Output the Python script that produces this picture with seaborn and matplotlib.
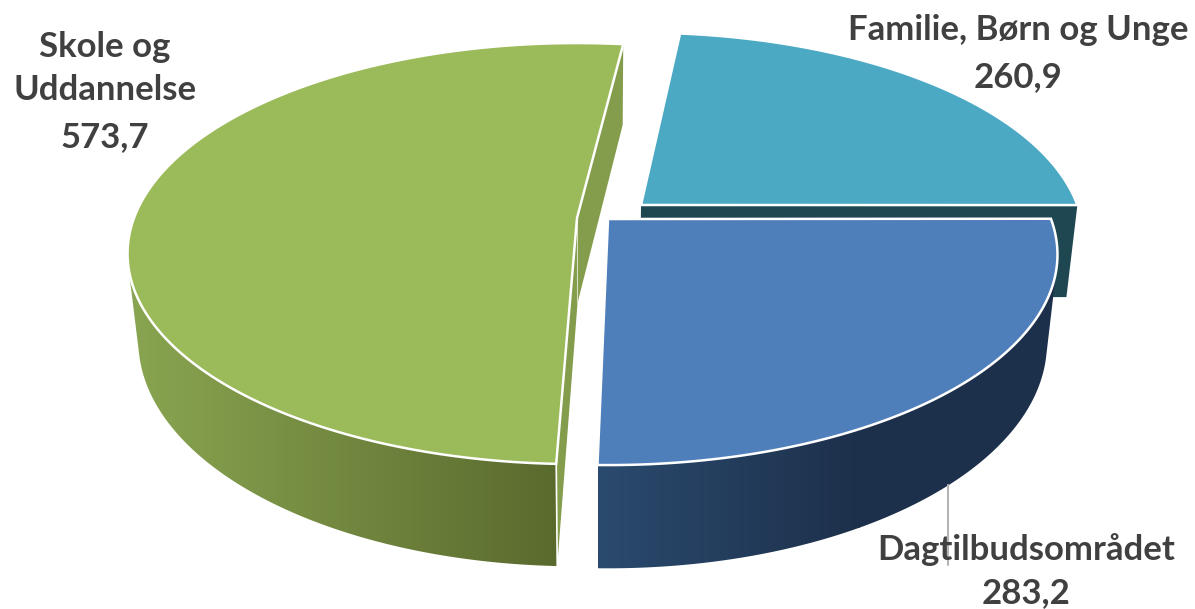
import numpy as np
import matplotlib
matplotlib.use("Agg")
import matplotlib.pyplot as plt
from matplotlib.patches import Polygon
from matplotlib.colors import to_rgb
import seaborn as sns

# Data
categories = ["Familie, Børn og Unge", "Dagtilbudsområdet", "Skole og\nUddannelse"]
values = [260.9, 283.2, 573.7]

# Styles / layout (pixel space of the 1195x609 figure)
top_colors = ["#4BA9C4", "#4F7FBB", "#9BBA59"]
cut_colors = ["#1F4752", None, "#849D4C"]
side_from = [None, "#2A4A6E", "#8AA651"]
side_to = [None, "#1D304B", "#59692D"]
apex_x = [641, 608, 577]
apex_y = [205, 219, 218]
depth = [92, 86, 85]
radius = [0.985, 1.0, 1.0]
tilt_deg = [-0.3, -0.4, 0.7]
side_span_deg = [None, 95, 125]
label_xy = [(1018, 30), (1026, 550), (105, 47)]
second_line_y = 90
value_xy = [(1018, 77), (1026, 593), (105, 137)]
START_DEG = 6.3
A, B, K = 443.0, 204.5, 0.169
X0, SHRINK = 600.0, 0.977
TEXT = "#404040"
FONT_SIZE = 25

sns.set_theme(style="white")
plt.rcParams["font.family"] = ["Lato", "DejaVu Sans"]

fig = plt.figure(figsize=(11.95, 6.09), dpi=100, facecolor="white")
ax = fig.add_axes([0, 0, 1, 1])
ax.set_xlim(0, 1195)
ax.set_ylim(609, 0)
ax.set_autoscale_on(False)
ax.axis("off")


def top_pt(i, theta):
    c, s = np.cos(theta), np.sin(theta)
    r = radius[i]
    return (apex_x[i] + r * A * s / (1 + K * c),
            apex_y[i] - r * B * c / (1 + K * c))


def bottom_pt(i, x, y):
    dy = np.asarray(y, dtype=float) - apex_y[i]
    slope = np.where(dy > 0, 0.07, 0.025)
    return X0 + (np.asarray(x, dtype=float) - X0) * SHRINK, y + depth[i] + slope * dy


fractions = np.array(values) / np.sum(values)
edges = np.radians(START_DEG + 360 * np.concatenate([[0], np.cumsum(fractions)]))


def slice_edges(i):
    t = np.radians(tilt_deg[i])
    return edges[i] + t, edges[i + 1] + t


def hull(points):
    pts = sorted(set(map(tuple, np.round(points, 3))))

    def half(seq):
        out = []
        for p in seq:
            while len(out) > 1 and ((out[-1][0] - out[-2][0]) * (p[1] - out[-2][1])
                                    - (out[-1][1] - out[-2][1]) * (p[0] - out[-2][0])) <= 0:
                out.pop()
            out.append(p)
        return out[:-1]

    return np.array(half(pts) + half(pts[::-1]))


def cut_face(i, theta, color, z):
    x1, y1 = top_pt(i, theta)
    bx1, by1 = bottom_pt(i, x1, y1)
    bx0, by0 = bottom_pt(i, apex_x[i], float(apex_y[i]))
    ax.fill([apex_x[i], x1, bx1, bx0], [apex_y[i], y1, by1, by0],
            color=color, lw=0, zorder=z)


def outer_side(i, z, x_lo, x_hi):
    t0, _ = slice_edges(i)
    th = np.linspace(t0, t0 + np.radians(side_span_deg[i]), 300)
    x, y = top_pt(i, th)
    bx, by = bottom_pt(i, x, y)
    poly = Polygon(hull(np.c_[np.r_[x, bx], np.r_[y, by]]), closed=True,
                   transform=ax.transData, facecolor="none", edgecolor="none")
    ax.add_patch(poly)
    pal = sns.blend_palette([side_from[i], side_to[i]], 256)
    grad = np.array([[to_rgb(c) for c in pal]])
    im = ax.imshow(grad, extent=[x_lo, x_hi, 609, 0], aspect="auto",
                   interpolation="bilinear", zorder=z)
    im.set_clip_path(poly)
    # fill beyond the gradient span with the end colour
    if i == 1:
        im2 = ax.imshow(np.array([[to_rgb(side_to[i])]]), extent=[x_hi - 1, 1195, 609, 0],
                        aspect="auto", zorder=z)
        im2.set_clip_path(poly)


def top_face(i, z):
    th = np.linspace(*slice_edges(i), 200)
    x, y = top_pt(i, th)
    ax.fill(np.r_[apex_x[i], x], np.r_[apex_y[i], y], facecolor=top_colors[i],
            edgecolor="white", lw=1.8, joinstyle="miter", zorder=z)


# Teal slice sits behind the blue slice
cut_face(0, slice_edges(0)[1], cut_colors[0], 1)
top_face(0, 2)

# Green slice
g0, g1 = slice_edges(2)
outer_side(2, 3, 125, 565)
cut_face(2, g0, cut_colors[2], 3.2)
cut_face(2, g1, cut_colors[2], 3.2)
xa, ya = top_pt(2, g0)
bxa, bya = bottom_pt(2, xa, ya)
ax.plot([xa, bxa], [ya, bya], color="white", lw=1.2, zorder=3.5)
ax.plot([apex_x[2], apex_x[2]], [apex_y[2], apex_y[2] + depth[2]], color="#D5DEC0", lw=0.8, zorder=3.5)
top_face(2, 4)

# Blue slice
outer_side(1, 5, 598, 860)
top_face(1, 6)

# Leader line
ax.plot([948, 948], [485, 565], color="#B5B5B5", lw=1.5, zorder=8)

# Labels
for i, name in enumerate(categories):
    lx, ly = label_xy[i]
    vx, vy = value_xy[i]
    kw = dict(ha="center", va="center", fontsize=FONT_SIZE, fontweight="bold", color=TEXT, zorder=9)
    if "\n" in name:
        first, second = name.split("\n")
        ax.text(lx, ly, first, **kw)
        ax.text(lx, second_line_y, second, **kw)
    else:
        ax.text(lx, ly, name, **kw)
    ax.text(vx, vy, f"{values[i]:.1f}".replace(".", ","), **kw)

fig.savefig("out.png", dpi=100, facecolor="white")
